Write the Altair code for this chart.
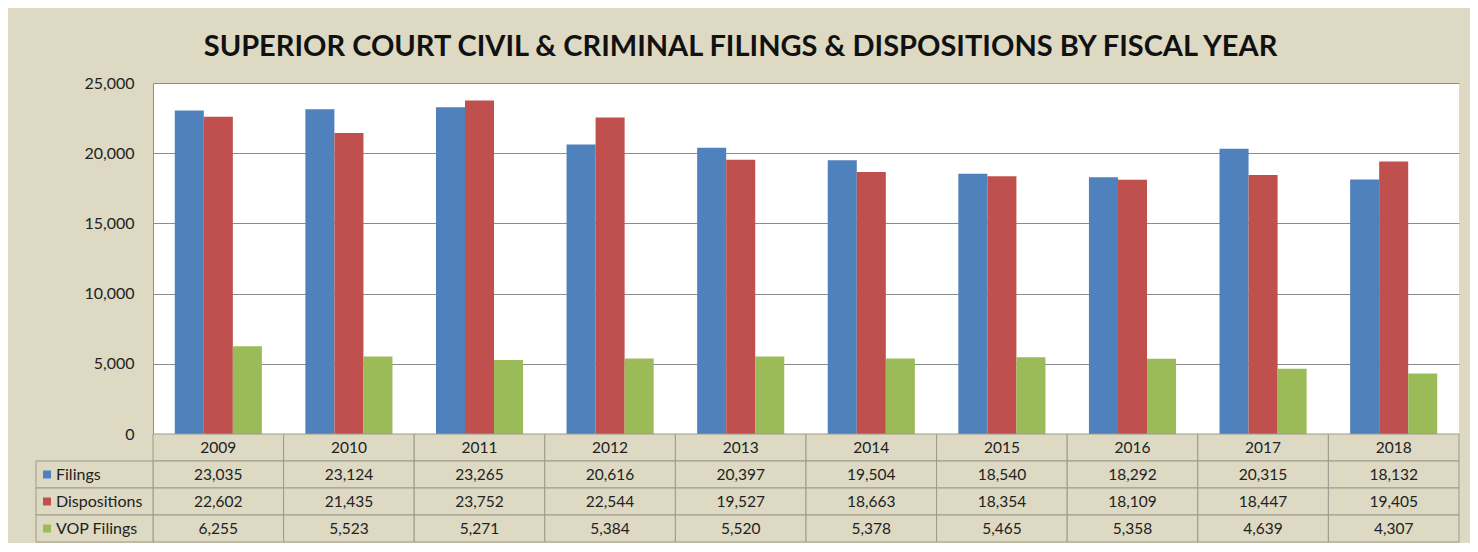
import altair as alt
import pandas as pd

years = ["2009", "2010", "2011", "2012", "2013", "2014", "2015", "2016", "2017", "2018"]
series = ["Filings", "Dispositions", "VOP Filings"]
filings = [23035, 23124, 23265, 20616, 20397, 19504, 18540, 18292, 20315, 18132]
dispositions = [22602, 21435, 23752, 22544, 19527, 18663, 18354, 18109, 18447, 19405]
vop_filings = [6255, 5523, 5271, 5384, 5520, 5378, 5465, 5358, 4639, 4307]
colors = ["#4f81bd", "#c0504d", "#9bbb59"]
y_ticks = [0, 5000, 10000, 15000, 20000, 25000]
title_text = "SUPERIOR COURT CIVIL & CRIMINAL FILINGS & DISPOSITIONS BY FISCAL YEAR"

BG = "#ddd9c3"
GRID = "#8c8c8c"
CELL = "#9c9a8c"
FONT = "Lato"

values_by_series = {"Filings": filings, "Dispositions": dispositions, "VOP Filings": vop_filings}
rows = []
for s in series:
    for y, v in zip(years, values_by_series[s]):
        rows.append({"year": y, "series": s, "value": v, "label": f"{v:,}"})
df = pd.DataFrame(rows)

header = pd.DataFrame({"year": years, "series": ["Year"] * len(years), "label": years})
table_df = pd.concat([header, df[["year", "series", "label"]]], ignore_index=True)
row_order = ["Year"] + series
label_df = pd.DataFrame({"series": series})

color_scale = alt.Scale(domain=series, range=colors)

W = 1306

bars = alt.Chart(df).mark_bar().encode(
    x=alt.X("year:O", sort=years, axis=None,
            scale=alt.Scale(paddingInner=0.333, paddingOuter=0.1667)),
    xOffset=alt.XOffset("series:N", sort=series),
    y=alt.Y("value:Q", title=None,
            scale=alt.Scale(domain=[0, 25000], nice=False),
            axis=alt.Axis(values=y_ticks, format=",d", grid=True, gridColor=GRID,
                          gridWidth=1, domainColor=GRID, ticks=False,
                          labelPadding=19, labelFont=FONT, labelFontSize=16,
                          labelColor="#222222", minExtent=70)),
    color=alt.Color("series:N", scale=color_scale, legend=None),
).properties(width=W, height=351, view=alt.ViewBackground(fill="white", strokeWidth=0))

ys = alt.Y("series:N", sort=row_order, axis=None,
           scale=alt.Scale(domain=row_order, paddingInner=0, paddingOuter=0))
xs = alt.X("year:O", sort=years, axis=None,
           scale=alt.Scale(domain=years, paddingInner=0, paddingOuter=0))

cells = alt.Chart(table_df).mark_rect(fill=BG, stroke=CELL, strokeWidth=1).encode(x=xs, y=ys)
cell_text = alt.Chart(table_df).mark_text(font=FONT, fontSize=15.5, color="#222222").encode(
    x=xs, y=ys, text="label:N")

label_cells = alt.Chart(label_df).mark_rect(fill=BG, stroke=CELL, strokeWidth=1).encode(
    x=alt.value(-117), x2=alt.value(0), y=ys)
squares = alt.Chart(label_df).mark_square(size=64, opacity=1).encode(
    x=alt.value(-106), y=ys,
    color=alt.Color("series:N", scale=color_scale, legend=None))
label_text = alt.Chart(label_df).mark_text(font=FONT, fontSize=16, color="#222222",
                                           align="left").encode(
    x=alt.value(-97), y=ys, text="series:N")

table = alt.layer(cells, cell_text, label_cells, squares, label_text).properties(
    width=W, height=108, view=alt.ViewBackground(strokeWidth=0))

chart = alt.vconcat(bars, table, spacing=0, bounds="flush").properties(
    title=alt.Title(title_text, font=FONT, fontSize=29, fontWeight="bold",
                    color="#111111", anchor="middle", offset=13, dx=-7),
    padding={"left": 27, "top": 25, "right": 10, "bottom": 0},
    background=BG,
).configure_view(strokeWidth=0)

chart.save("out.html", embed_options={"renderer": "svg", "actions": False})
